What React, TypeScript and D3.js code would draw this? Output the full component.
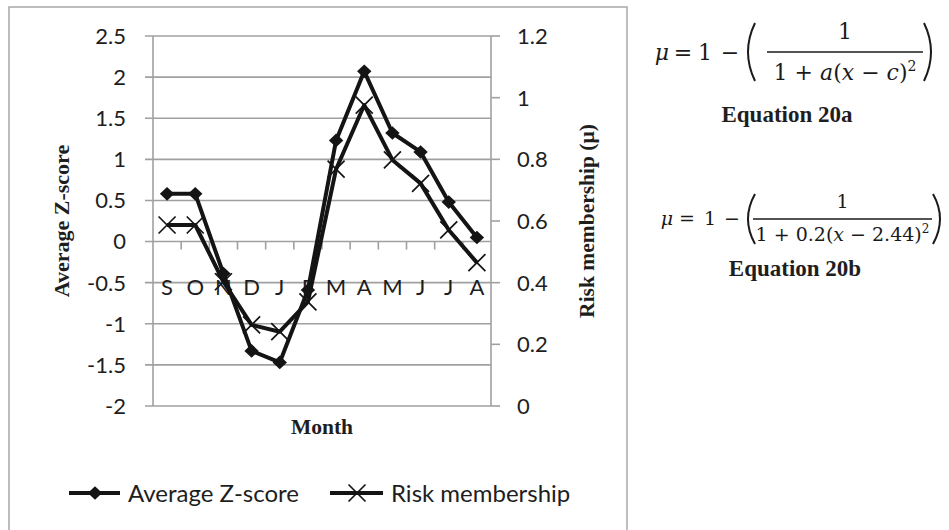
import React, { useRef, useEffect } from 'react';
import * as d3 from 'd3';

const months = ['S', 'O', 'N', 'D', 'J', 'F', 'M', 'A', 'M', 'J', 'J', 'A'];
const zScores = [0.58, 0.58, -0.39, -1.33, -1.47, -0.59, 1.23, 2.07, 1.32, 1.09, 0.48, 0.05];
const riskMembership = [0.587, 0.587, 0.403, 0.263, 0.241, 0.338, 0.768, 0.976, 0.798, 0.722, 0.571, 0.465];
const leftTicks = [-2, -1.5, -1, -0.5, 0, 0.5, 1, 1.5, 2, 2.5];
const rightTicks = [0, 0.2, 0.4, 0.6, 0.8, 1, 1.2];
const legendLabels = ['Average Z-score', 'Risk membership'];

const SANS = 'Lato, Calibri, sans-serif';
const SERIF = '"Liberation Serif", "Times New Roman", serif';
const MATH = '"DejaVu Serif", serif';

const App = () => {
  const ref = useRef<SVGSVGElement | null>(null);

  useEffect(() => {
    if (!ref.current) return;
    const svg = d3.select(ref.current);
    svg.selectAll('*').remove();

    const left = 153, right = 491, top = 36, bottom = 406;
    const x = d3.scaleBand<number>().domain(d3.range(months.length)).range([left, right]);
    const yL = d3.scaleLinear().domain([-2, 2.5]).range([bottom, top]);
    const yR = d3.scaleLinear().domain([0, 1.2]).range([bottom, top]);
    const cx = (i: number) => (x(i) as number) + x.bandwidth() / 2;
    const grey = '#a0a0a0';
    const ink = '#141414';
    const txt = '#1e1e1e';

    // outer chart frame
    svg.append('rect')
      .attr('x', 9).attr('y', 7).attr('width', 618).attr('height', 540)
      .attr('fill', 'white').attr('stroke', '#a8a8a8').attr('stroke-width', 1.5);

    // gridlines + axes
    svg.append('g').selectAll('line').data(leftTicks).enter().append('line')
      .attr('x1', left - 8).attr('x2', right)
      .attr('y1', d => yL(d)).attr('y2', d => yL(d))
      .attr('stroke', grey).attr('stroke-width', 1.6);
    svg.append('line').attr('x1', left).attr('x2', left).attr('y1', top).attr('y2', bottom)
      .attr('stroke', grey).attr('stroke-width', 1.6);
    svg.append('line').attr('x1', right).attr('x2', right).attr('y1', top).attr('y2', bottom)
      .attr('stroke', grey).attr('stroke-width', 1.6);
    svg.append('g').selectAll('line').data(rightTicks).enter().append('line')
      .attr('x1', right).attr('x2', right + 9)
      .attr('y1', d => yR(d)).attr('y2', d => yR(d))
      .attr('stroke', grey).attr('stroke-width', 1.6);
    // category ticks on the zero line
    svg.append('g').selectAll('line').data(d3.range(1, months.length)).enter().append('line')
      .attr('x1', d => x(d) as number).attr('x2', d => x(d) as number)
      .attr('y1', yL(0)).attr('y2', yL(0) + 8)
      .attr('stroke', grey).attr('stroke-width', 1.6);

    svg.append('g').selectAll('text').data(leftTicks).enter().append('text')
      .attr('x', 126).attr('y', d => yL(d)).attr('dy', '0.36em')
      .attr('text-anchor', 'end').attr('font-family', SANS).attr('font-size', 22).attr('fill', txt)
      .text(d => String(d));
    svg.append('g').selectAll('text').data(rightTicks).enter().append('text')
      .attr('x', 517).attr('y', d => yR(d)).attr('dy', '0.36em')
      .attr('text-anchor', 'start').attr('font-family', SANS).attr('font-size', 22).attr('fill', txt)
      .text(d => String(d));
    svg.append('g').selectAll('text').data(months).enter().append('text')
      .attr('x', (_, i) => cx(i)).attr('y', 287).attr('dy', '0.36em')
      .attr('text-anchor', 'middle').attr('font-family', SANS).attr('font-size', 22).attr('fill', txt)
      .text(d => d);

    // axis titles
    svg.append('text').attr('transform', `translate(61,${(top + bottom) / 2}) rotate(-90)`)
      .attr('text-anchor', 'middle').attr('dy', '0.35em')
      .attr('font-family', SERIF).attr('font-weight', 'bold').attr('font-size', 22).attr('fill', txt)
      .text('Average Z-score');
    svg.append('text').attr('transform', `translate(586,${(top + bottom) / 2}) rotate(-90)`)
      .attr('text-anchor', 'middle').attr('dy', '0.35em')
      .attr('font-family', SERIF).attr('font-weight', 'bold').attr('font-size', 21.5).attr('fill', txt)
      .text('Risk membership (μ)');
    svg.append('text').attr('x', (left + right) / 2).attr('y', 434)
      .attr('text-anchor', 'middle')
      .attr('font-family', SERIF).attr('font-weight', 'bold').attr('font-size', 21.5).attr('fill', txt)
      .text('Month');

    const diamond = (px: number, py: number) =>
      `M${px},${py - 6.8}L${px + 7.2},${py}L${px},${py + 6.8}L${px - 7.2},${py}Z`;
    const cross = (px: number, py: number) =>
      `M${px - 8.5},${py - 8.5}L${px + 8.5},${py + 8.5}M${px - 8.5},${py + 8.5}L${px + 8.5},${py - 8.5}`;

    // series
    const lineZ = d3.line<number>().x((_, i) => cx(i)).y(d => yL(d));
    const lineR = d3.line<number>().x((_, i) => cx(i)).y(d => yR(d));
    svg.append('path').datum(riskMembership).attr('d', lineR)
      .attr('fill', 'none').attr('stroke', ink).attr('stroke-width', 4).attr('stroke-linejoin', 'round');
    svg.append('path').datum(zScores).attr('d', lineZ)
      .attr('fill', 'none').attr('stroke', ink).attr('stroke-width', 4).attr('stroke-linejoin', 'round');
    svg.append('g').selectAll('path').data(riskMembership).enter().append('path')
      .attr('d', (d, i) => cross(cx(i), yR(d)))
      .attr('stroke', ink).attr('stroke-width', 1.7).attr('fill', 'none');
    svg.append('g').selectAll('path').data(zScores).enter().append('path')
      .attr('d', (d, i) => diamond(cx(i), yL(d)))
      .attr('fill', ink);

    // legend
    const ly = 493;
    svg.append('line').attr('x1', 69).attr('x2', 120).attr('y1', ly).attr('y2', ly)
      .attr('stroke', ink).attr('stroke-width', 4);
    svg.append('path').attr('d', diamond(95, ly)).attr('fill', ink);
    svg.append('text').attr('x', 128).attr('y', ly).attr('dy', '0.36em')
      .attr('font-family', SANS).attr('font-size', 24).attr('fill', txt).text(legendLabels[0]);
    svg.append('line').attr('x1', 330).attr('x2', 383).attr('y1', ly).attr('y2', ly)
      .attr('stroke', ink).attr('stroke-width', 4);
    svg.append('path').attr('d', cross(357, ly)).attr('stroke', ink).attr('stroke-width', 1.7);
    svg.append('text').attr('x', 391).attr('y', ly).attr('dy', '0.36em')
      .attr('font-family', SANS).attr('font-size', 24).attr('fill', txt).text(legendLabels[1]);

    // equations
    const eq = (g: d3.Selection<SVGGElement, unknown, null, undefined>, o: {
      size: number; pos: number[]; base: number; lx1: number; lx2: number; ly: number;
      num: number; den: number; denText: string; pl: number; pr: number; h: number;
    }) => {
      const t = (tx: number, ty: number, s: string, italic = false) =>
        g.append('text').attr('x', tx).attr('y', ty).attr('text-anchor', 'middle')
          .attr('font-family', MATH).attr('font-size', o.size).attr('fill', '#1a1a1a')
          .attr('font-style', italic ? 'italic' : 'normal').text(s);
      t(o.pos[0], o.base, 'μ', true);
      t(o.pos[1], o.base, '=');
      t(o.pos[2], o.base, '1');
      t(o.pos[3], o.base, '−');
      const mid = (o.lx1 + o.lx2) / 2;
      t(mid, o.num, '1');
      g.append('text').attr('x', mid).attr('y', o.den).attr('text-anchor', 'middle')
        .attr('font-family', MATH).attr('font-size', o.size).attr('fill', '#1a1a1a')
        .html(o.denText);
      g.append('line').attr('x1', o.lx1).attr('x2', o.lx2).attr('y1', o.ly).attr('y2', o.ly)
        .attr('stroke', '#1a1a1a').attr('stroke-width', 1.6);
      const h = o.h;
      g.append('path').attr('d', `M${o.pl + 7},${o.ly - h}Q${o.pl - 7},${o.ly} ${o.pl + 7},${o.ly + h}`)
        .attr('fill', 'none').attr('stroke', '#1a1a1a').attr('stroke-width', 2);
      g.append('path').attr('d', `M${o.pr - 7},${o.ly - h}Q${o.pr + 7},${o.ly} ${o.pr - 7},${o.ly + h}`)
        .attr('fill', 'none').attr('stroke', '#1a1a1a').attr('stroke-width', 2);
    };
    const ga = svg.append('g');
    eq(ga, {
      size: 22, pos: [662, 683, 705, 730], base: 60, lx1: 767, lx2: 923, ly: 52, num: 39, den: 80,
      denText: '1 + <tspan font-style="italic">a</tspan>(<tspan font-style="italic">x</tspan> − <tspan font-style="italic">c</tspan>)<tspan font-size="14" dy="-9">2</tspan>',
      pl: 748, pr: 931, h: 29,
    });
    const gb = svg.append('g');
    eq(gb, {
      size: 19, pos: [667, 687, 710, 732], base: 225, lx1: 753, lx2: 932, ly: 219, num: 208, den: 241,
      denText: '1 + 0.2(<tspan font-style="italic">x</tspan> − 2.44)<tspan font-size="12" dy="-8">2</tspan>',
      pl: 748, pr: 940, h: 25,
    });
    svg.append('text').attr('x', 787).attr('y', 122).attr('text-anchor', 'middle')
      .attr('font-family', SERIF).attr('font-weight', 'bold').attr('font-size', 23).attr('fill', txt)
      .text('Equation 20a');
    svg.append('text').attr('x', 795).attr('y', 276).attr('text-anchor', 'middle')
      .attr('font-family', SERIF).attr('font-weight', 'bold').attr('font-size', 23).attr('fill', txt)
      .text('Equation 20b');
  }, []);

  return (
    <div style={{ position: 'absolute', left: 0, top: 0 }}>
      <svg ref={ref} width={949} height={530} style={{ display: 'block', background: 'white' }} />
    </div>
  );
};

export default App;
